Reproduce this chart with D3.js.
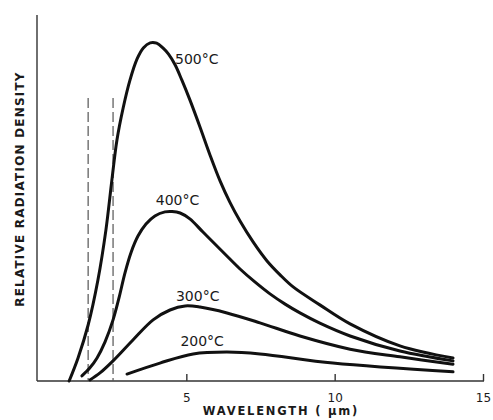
<!DOCTYPE html>
<html>
<head>
<meta charset="utf-8">
<script src="https://cdn.jsdelivr.net/npm/d3@7"></script>
<style>
  html, body { margin: 0; padding: 0; background: #fff; }
  svg { display: block; }
  text { font-family: "DejaVu Sans", sans-serif; fill: #1a1a1a; }
</style>
</head>
<body>
<svg id="chart" width="493" height="420"></svg>
<script>
// ---- data (wavelength in µm, relative radiation density) ----
const xTicks = [5, 10, 15];
const xTickLabels = ["5", "10", "15"];
const dashedX = [1.69, 2.53];
const dashedTop = 77.3;

const curve500 = [[1.05,0],[1.35,6.3],[1.69,15.3],[2.02,27.6],[2.29,41.3],[2.49,54.9],[2.66,65.8],[2.87,74.6],[3.1,82.2],[3.34,88.0],[3.55,91.0],[3.78,92.4],[4.0,92.3],[4.21,91.0],[4.4,89.3],[4.62,86.4],[4.85,82.2],[5.12,76.8],[5.46,69.4],[5.8,61.7],[6.14,54.6],[6.47,48.8],[6.81,43.7],[7.25,38.0],[7.72,32.8],[8.16,29.0],[8.6,25.7],[9.5,20.8],[10.52,15.6],[12.2,9.6],[13.99,6.3]];
const curve400 = [[1.48,1.4],[1.75,3.6],[1.99,6.3],[2.26,10.7],[2.53,16.7],[2.73,22.7],[2.93,29.5],[3.14,35.2],[3.37,39.6],[3.64,42.9],[3.94,45.1],[4.28,46.2],[4.52,46.3],[4.79,45.9],[5.12,44.3],[5.56,40.7],[6.3,34.7],[6.81,30.6],[7.32,27.0],[7.82,23.8],[8.33,21.0],[8.83,18.6],[9.5,15.8],[10.52,12.3],[12.2,8.2],[13.99,5.5]];
const curve300 = [[1.75,0.3],[2.09,2.2],[2.53,5.5],[3.2,11.2],[3.88,16.7],[4.45,19.4],[4.96,20.5],[5.46,20.2],[6.37,18.6],[7.48,15.9],[8.83,12.3],[10.52,8.7],[12.2,6.6],[13.99,4.6]];
const curve200 = [[3.0,1.9],[4.11,4.9],[5.23,7.4],[6.37,7.9],[7.48,7.4],[9.94,4.9],[13.99,2.5]];

const seriesNames = ["500°C", "400°C", "300°C", "200°C"];
const seriesData = [curve500, curve400, curve300, curve200];
// label anchor points (data units)
const labelPos = [[4.62, 86.5], [3.97, 48.0], [4.65, 21.9], [4.8, 9.5]];

const xLabel = "WAVELENGTH ( µm)";
const yLabel = "RELATIVE RADIATION DENSITY";

// ---- drawing ----
const svg = d3.select("#chart");
const x = d3.scaleLinear().domain([0, 15]).range([38, 483]);
const y = d3.scaleLinear().domain([0, 100]).range([381, 15]);

// axes lines
svg.append("line").attr("x1", 37).attr("x2", 37).attr("y1", 15).attr("y2", 381)
  .attr("stroke", "#333").attr("stroke-width", 1.4);
svg.append("line").attr("x1", 37).attr("x2", 484).attr("y1", 381).attr("y2", 381)
  .attr("stroke", "#333").attr("stroke-width", 1.4);

// x ticks (pointing up) via d3 axis
const xAxis = d3.axisBottom(x).tickValues(xTicks).tickSize(-7)
  .tickFormat((d, i) => xTickLabels[i]).tickPadding(12);
const gx = svg.append("g").attr("transform", "translate(0,381)").call(xAxis);
gx.select(".domain").remove();
gx.selectAll(".tick line").attr("stroke", "#333").attr("stroke-width", 1.4);
gx.selectAll(".tick text").attr("font-size", 12).attr("font-family", "DejaVu Sans, sans-serif")
  .attr("fill", "#1a1a1a");

// dashed lines
svg.selectAll(".dash").data(dashedX).enter().append("line")
  .attr("x1", d => x(d)).attr("x2", d => x(d))
  .attr("y1", y(dashedTop)).attr("y2", y(0))
  .attr("stroke", "#555").attr("stroke-width", 1.2).attr("stroke-dasharray", "10,4");

// curves
const line = d3.line().x(d => x(d[0])).y(d => y(d[1])).curve(d3.curveCatmullRom.alpha(0.5));
svg.selectAll(".curve").data(seriesData).enter().append("path")
  .attr("d", line).attr("fill", "none").attr("stroke", "#111")
  .attr("stroke-width", 3).attr("stroke-linecap", "round").attr("stroke-linejoin", "round");

// curve labels
svg.selectAll(".clabel").data(seriesNames).enter().append("text")
  .attr("x", (d, i) => x(labelPos[i][0])).attr("y", (d, i) => y(labelPos[i][1]))
  .attr("font-size", 14).text(d => d);

// axis titles
svg.append("text").attr("x", 281).attr("y", 415).attr("text-anchor", "middle")
  .attr("font-size", 11.5).attr("font-weight", "bold").attr("letter-spacing", 1.8)
  .text(xLabel);
svg.append("text").attr("transform", "translate(24,189) rotate(-90)").attr("text-anchor", "middle")
  .attr("font-size", 12).attr("font-weight", "bold").attr("letter-spacing", 1.2)
  .text(yLabel);
</script>
</body>
</html>
